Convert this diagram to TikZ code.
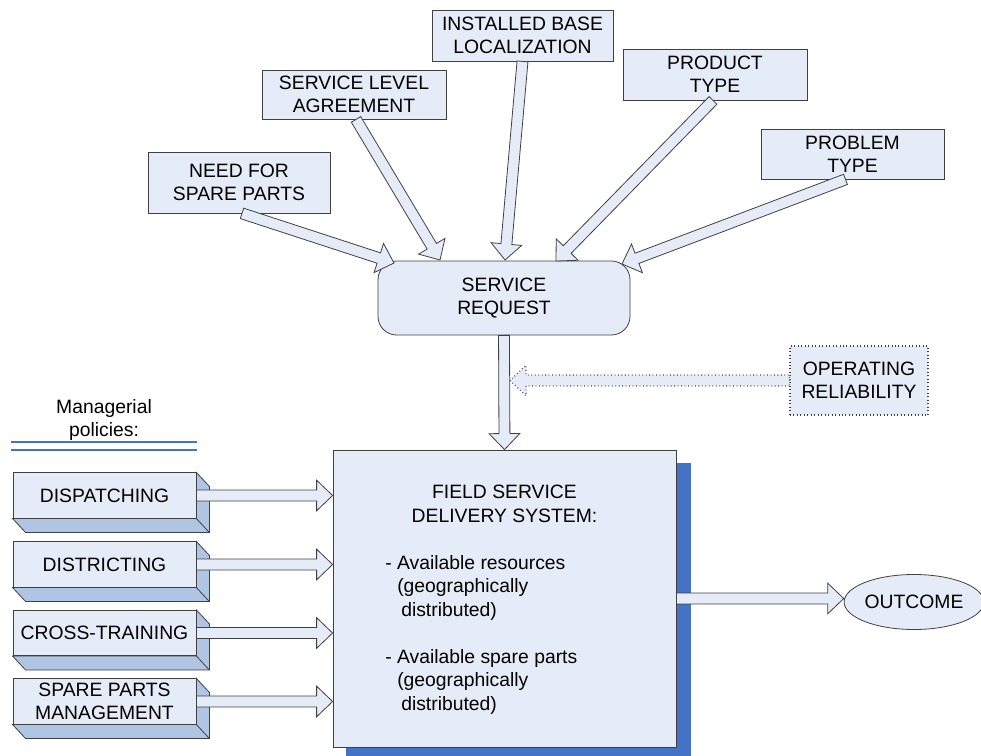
\documentclass[tikz,border=0pt]{standalone}
\usepackage{fontspec}
\setmainfont{Liberation Sans}
\usetikzlibrary{calc,shapes.geometric}
\definecolor{boxfill}{RGB}{230,236,247}
\definecolor{sidefill}{RGB}{176,196,228}
\definecolor{shadowblue}{RGB}{68,114,196}
\definecolor{linegray}{RGB}{64,64,64}
\newcommand\dfont{\fontsize{14.5}{17.5}\selectfont}
\def\aw{4.1pt}\def\ahw{11.5pt}\def\ahl{12pt}
\newcommand\blockarrow[3][]{%
  \coordinate (bam) at ($(#3)!\ahl!(#2)$);
  \filldraw[arrowsty,#1] ($(#2)!\aw!90:(#3)$) -- ($(bam)!\aw!90:(#3)$) -- ($(bam)!\ahw!90:(#3)$) -- (#3) -- ($(bam)!\ahw!-90:(#3)$) -- ($(bam)!\aw!-90:(#3)$) -- ($(#2)!\aw!-90:(#3)$) -- cycle;}
\tikzset{
  box/.style={draw=linegray, fill=boxfill, line width=0.6pt, inner sep=0pt, align=center, font=\dfont, text=black},
  arrowsty/.style={draw=linegray, fill=boxfill, line width=0.6pt, line join=miter},
  txt/.style={font=\dfont, inner sep=0pt, text=black},
  side/.style={fill=sidefill, draw=linegray, line width=0.6pt},
  dline/.style={shadowblue, line width=2pt}
}
\begin{document}
\begin{tikzpicture}[x=0.75pt,y=-0.75pt]
\useasboundingbox (0,0) rectangle (981,756);
% top boxes
\node[box, minimum width=136.5pt, minimum height=45.75pt] (need) at (239,182.5) {NEED FOR\\SPARE PARTS};
\node[box, minimum width=138pt, minimum height=36.75pt] (sla) at (354,94.5) {SERVICE LEVEL\\AGREEMENT};
\node[box, minimum width=135.75pt, minimum height=38.25pt] (inst) at (522.5,35.5) {INSTALLED BASE\\LOCALIZATION};
\node[box, minimum width=138pt, minimum height=38.25pt] (prod) at (715,74.5) {PRODUCT\\TYPE};
\node[box, minimum width=137.25pt, minimum height=37.5pt] (prob) at (852.5,154) {PROBLEM\\TYPE};
\node[box, rounded corners=14pt, minimum width=189pt, minimum height=55.5pt] (sr) at (504,298) {SERVICE\\REQUEST};
\node[box, dotted, line width=0.9pt, minimum width=103.5pt, minimum height=51.75pt] (op) at (859,380.5) {OPERATING\\RELIABILITY};
% main box
\fill[shadowblue] (346,463) rectangle (691,756);
\node[box, minimum width=257.25pt, minimum height=222.75pt] (fsd) at (504.5,598.5) {};
\node[txt, align=center] (fsdt) at (504.5,504) {FIELD SERVICE\\DELIVERY SYSTEM:};
\node[txt, anchor=base west] (l1) at (385,569) {- Available resources};
\node[txt, anchor=base west] (l2) at (397,592.5) {(geographically};
\node[txt, anchor=base west] (l3) at (401,616) {distributed)};
\node[txt, anchor=base west] (l4) at (385,663) {- Available spare parts};
\node[txt, anchor=base west] (l5) at (397,686.5) {(geographically};
\node[txt, anchor=base west] (l6) at (401,710) {distributed)};
% outcome
\node[box, ellipse, minimum width=99pt, minimum height=41.25pt] (out) at (914,602) {OUTCOME};
% managerial policies
\node[txt, align=center] (mp) at (104,420) {Managerial\\policies:};
\coordinate (dl1a) at (11,442); \coordinate (dl1b) at (197,442);
\coordinate (dl2a) at (11,450); \coordinate (dl2b) at (197,450);
\draw[dline] (dl1a) -- (dl1b);
\draw[dline] (dl2a) -- (dl2b);
% policy boxes
\foreach \nm/\yy/\lab in {pd/495.5/DISPATCHING, pdi/564.5/DISTRICTING, pc/633/CROSS-TRAINING, ps/701.5/{SPARE PARTS\\MANAGEMENT}}{
  \node[box, minimum width=137.25pt, minimum height=34pt] (\nm) at (104.5,\yy) {\lab};
  \filldraw[side] (\nm.north east) -- ++(13,14) -- ($(\nm.south east)+(13,14)$) -- ($(\nm.south west)+(13,14)$) -- (\nm.south west) -- (\nm.south east) -- cycle;
  \draw[linegray, line width=0.6pt] (\nm.south east) -- ++(13,14);
  \coordinate (\nm t) at (\nm.east -| fsd.west);
  \blockarrow{\nm.east}{\nm t}
}
% inclined arrows into service request
\coordinate (s1) at ($(need.south)+(3,0)$);  \coordinate (t1) at (394,263);
\coordinate (s2) at ($(sla.south)+(2,0)$);   \coordinate (t2) at (440,260);
\coordinate (s3) at (inst.south);            \coordinate (t3) at (505,260);
\coordinate (s4) at ($(prod.south)+(-2,0)$); \coordinate (t4) at (556,261);
\coordinate (s5) at ($(prob.south)+(-7,0)$); \coordinate (t5) at (622,264);
\blockarrow{s1}{t1}
\blockarrow{s2}{t2}
\blockarrow{s3}{t3}
\blockarrow{s4}{t4}
\blockarrow{s5}{t5}
% operating reliability dotted arrow
\coordinate (opt) at ($(op.west -| sr.south)+(6,0)$);
\blockarrow[dotted, line width=0.9pt]{op.west}{opt}
% service request to field service
\blockarrow{sr.south}{fsd.north}
% outcome arrow
\coordinate (ot) at (out.west |- fsd.east);
\blockarrow{fsd.east}{ot}
\end{tikzpicture}
\end{document}
